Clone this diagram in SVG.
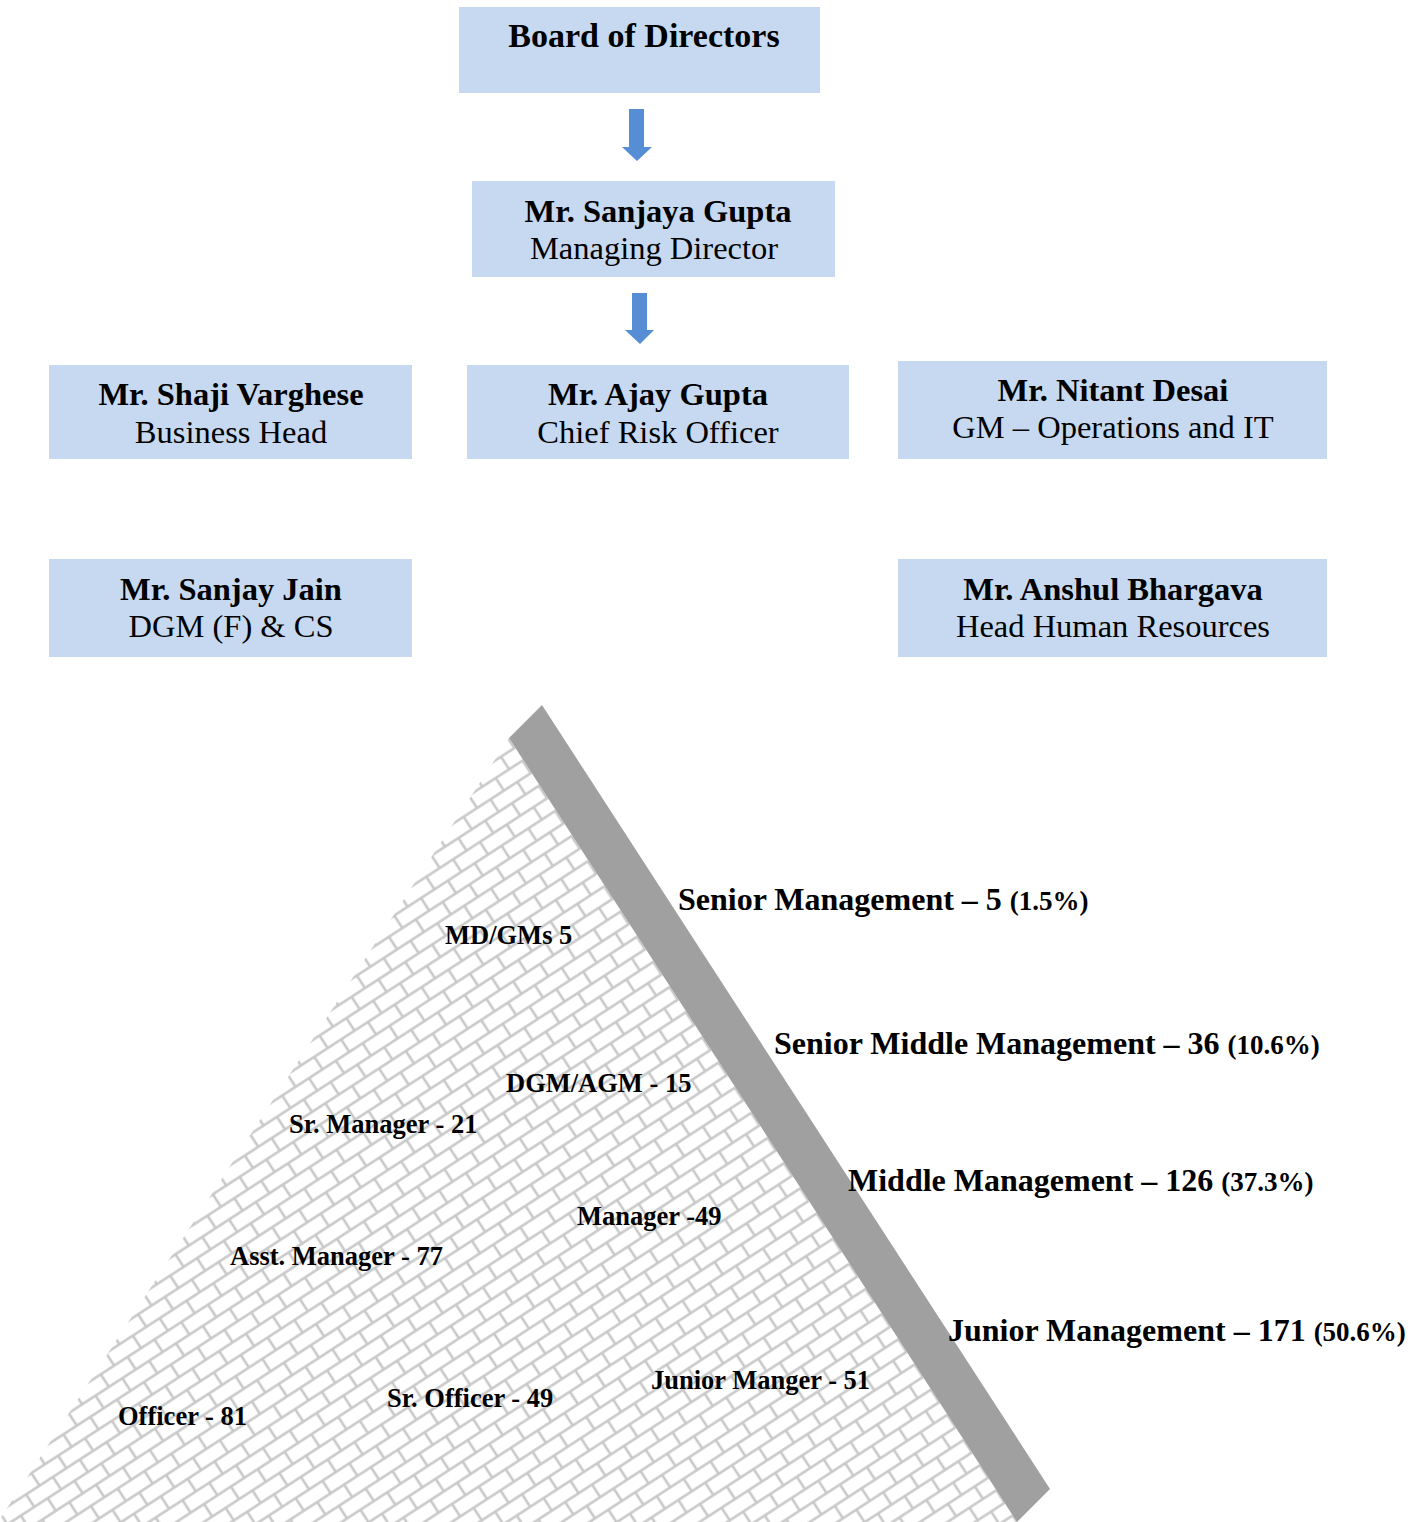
<svg xmlns="http://www.w3.org/2000/svg" width="1426" height="1522" viewBox="0 0 1426 1522">
<style>
.box{fill:#c6d9f1}
.t{font-family:"Liberation Serif","Times New Roman",serif;fill:#000;text-anchor:middle}
.b{font-weight:bold;font-size:32.5px}
.r{font-size:32.5px}
.arrow{fill:#558ed5}
.lab{font-family:"Liberation Serif","Times New Roman",serif;font-weight:bold;fill:#000}
.big{font-size:32px}
.small{font-size:27px}
.in{font-size:26.5px}
</style>
<defs>
<pattern id="brick" width="32" height="30" patternUnits="userSpaceOnUse" patternTransform="rotate(-33)">
<path d="M0 7.5H32 M0 22.5H32 M8 7.5V22.5 M24 22.5V30 M24 0V7.5" stroke="#c8c8c8" stroke-width="2.6" fill="none"/>
</pattern>
</defs>
<rect width="1426" height="1522" fill="#fff"/>

<g id="pyramid">
<polygon points="509,738 -2,1522 1017,1522" fill="url(#brick)"/>
<polygon points="542,705 1050,1489 1017,1522 509,738" fill="#a0a0a0"/>
</g>

<g id="connectors">
<polygon class="arrow" points="629,109 644,109 644,147 652,147 637,161 622,147 629,147"/>
<polygon class="arrow" points="632,293 647,293 647,330 654,330 640,344 625,330 632,330"/>
</g>

<g id="board">
<rect class="box" x="459" y="7" width="361" height="86"/>
<text class="t b" x="644" y="47" style="font-size:34px">Board of Directors</text>
</g>
<g id="md">
<rect class="box" x="472" y="181" width="363" height="96"/>
<text class="t b" x="658" y="222">Mr. Sanjaya Gupta</text>
<text class="t r" x="654" y="259">Managing Director</text>
</g>
<g id="shaji">
<rect class="box" x="49" y="365" width="363" height="94"/>
<text class="t b" x="231" y="405">Mr. Shaji Varghese</text>
<text class="t r" x="231" y="443">Business Head</text>
</g>
<g id="ajay">
<rect class="box" x="467" y="365" width="382" height="94"/>
<text class="t b" x="658" y="405">Mr. Ajay Gupta</text>
<text class="t r" x="658" y="443">Chief Risk Officer</text>
</g>
<g id="nitant">
<rect class="box" x="898" y="361" width="429" height="98"/>
<text class="t b" x="1113" y="401">Mr. Nitant Desai</text>
<text class="t r" x="1113" y="438">GM – Operations and IT</text>
</g>
<g id="sanjay">
<rect class="box" x="49" y="559" width="363" height="98"/>
<text class="t b" x="231" y="600">Mr. Sanjay Jain</text>
<text class="t r" x="231" y="637">DGM (F) &amp; CS</text>
</g>
<g id="anshul">
<rect class="box" x="898" y="559" width="429" height="98"/>
<text class="t b" x="1113" y="600">Mr. Anshul Bhargava</text>
<text class="t r" x="1113" y="637">Head Human Resources</text>
</g>

<g id="levels">
<text class="lab big" x="678" y="910">Senior Management – 5 <tspan class="small">(1.5%)</tspan></text>
<text class="lab big" x="774" y="1054">Senior Middle Management – 36 <tspan class="small">(10.6%)</tspan></text>
<text class="lab big" x="848" y="1191">Middle Management – 126 <tspan class="small">(37.3%)</tspan></text>
<text class="lab big" x="948" y="1341">Junior Management – 171 <tspan class="small">(50.6%)</tspan></text>
</g>
<g id="grades">
<text class="lab in" x="445" y="944">MD/GMs 5</text>
<text class="lab in" x="506" y="1092">DGM/AGM - 15</text>
<text class="lab in" x="289" y="1133">Sr. Manager - 21</text>
<text class="lab in" x="577" y="1225">Manager -49</text>
<text class="lab in" x="230" y="1265">Asst. Manager - 77</text>
<text class="lab in" x="651" y="1389">Junior Manger - 51</text>
<text class="lab in" x="387" y="1407">Sr. Officer - 49</text>
<text class="lab in" x="118" y="1425">Officer - 81</text>
</g>
</svg>
